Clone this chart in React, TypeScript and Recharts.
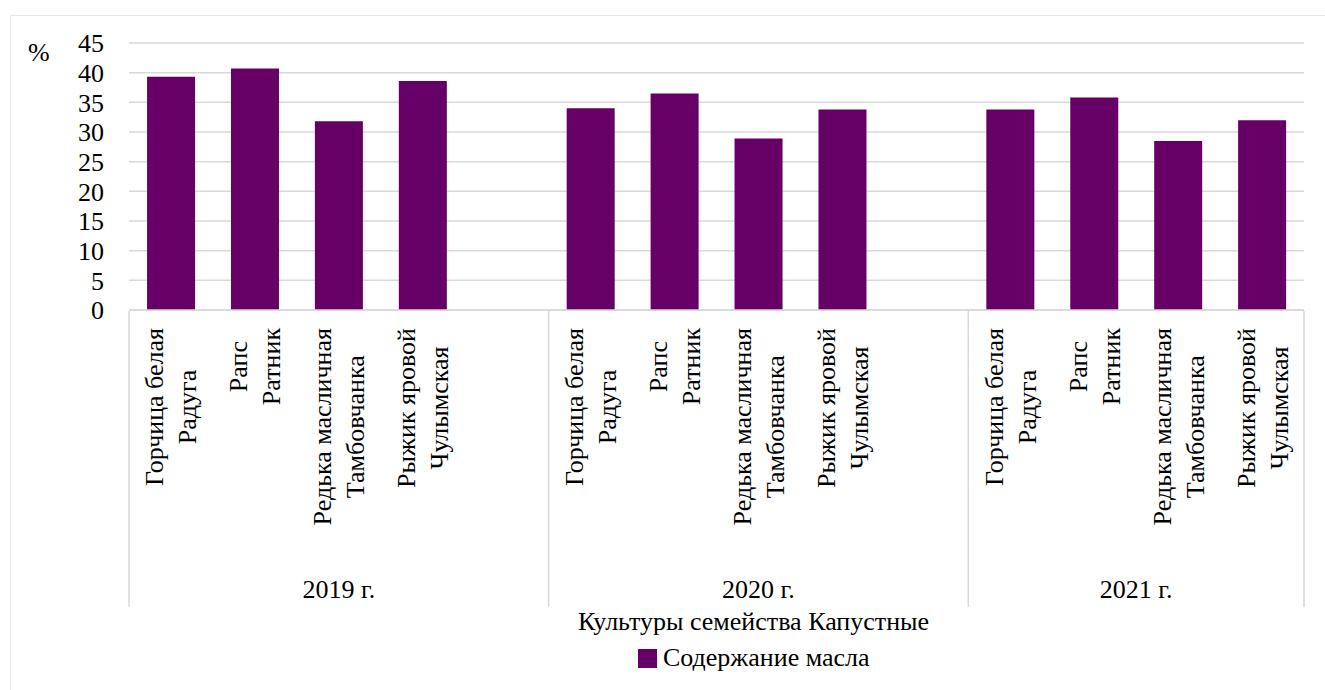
import React from 'react';
import { BarChart, Bar, XAxis, YAxis, CartesianGrid, Legend, Label } from 'recharts';

const years = ['2019 г.', '2020 г.', '2021 г.'];
const crops = [
  'Горчица белая\nРадуга',
  'Рапс\nРатник',
  'Редька масличная\nТамбовчанка',
  'Рыжик яровой\nЧулымская',
];
const oil2019 = [39.3, 40.7, 31.8, 38.6];
const oil2020 = [34.0, 36.5, 28.9, 33.8];
const oil2021 = [33.8, 35.8, 28.5, 32.0];
const yTicks = [0, 5, 10, 15, 20, 25, 30, 35, 40, 45];

const seriesName = 'Содержание масла';
const axisTitle = 'Культуры семейства Капустные';

const FONT = '"Liberation Serif", "Times New Roman", Times, "Noto Serif", "DejaVu Serif", Tinos, serif';
const FS = 26;
const BAR = '#660066';
const GRID = '#d9d9d9';

const W = 1325;
const H = 690;
const margin = { top: 43, right: 21, left: 69, bottom: 60 };
const Y_W = 60;
const X_H = 320;
const PLOT_W = W - margin.left - margin.right - Y_W;

type Row = { key: string; crop: string; year: string; groupStart: boolean; groupSize: number; last: boolean; oil?: number };

const yearValues = [oil2019, oil2020, oil2021];
const rows: Row[] = [];
years.forEach((year, yi) => {
  const size = yi < years.length - 1 ? crops.length + 1 : crops.length;
  crops.forEach((crop, ci) => {
    rows.push({ key: `${year}-${ci}`, crop, year, groupStart: ci === 0, groupSize: size, last: false, oil: yearValues[yi][ci] });
  });
  if (yi < years.length - 1) {
    rows.push({ key: `${year}-gap`, crop: '', year, groupStart: false, groupSize: size, last: false });
  }
});
rows[rows.length - 1].last = true;

const SLOT = PLOT_W / rows.length;

let ctx: CanvasRenderingContext2D | null = null;
const measure = (s: string) => {
  if (!ctx) {
    ctx = document.createElement('canvas').getContext('2d');
  }
  if (!ctx) return s.length * FS * 0.5;
  ctx.font = `${FS}px ${FONT}`;
  return ctx.measureText(s).width;
};

const CropTick = (props: any) => {
  const { x, y, payload } = props;
  const row = rows.find((r) => r.key === payload.value);
  if (!row) return null;
  const lines = row.crop ? row.crop.split('\n') : [];
  const longest = Math.max(0, ...lines.map(measure));
  const along = -(18 + longest / 2);
  const lh = 33;
  const first = -((lines.length - 1) * lh) / 2 + 9;
  const left = x - SLOT / 2;
  return (
    <g>
      {lines.length > 0 && (
        <g transform={`translate(${x},${y})`}>
          <text transform="rotate(-90)" textAnchor="middle" fontFamily={FONT} fontSize={FS} fill="#000">
            {lines.map((l, i) => (
              <tspan key={i} x={along} y={first + i * lh}>
                {l}
              </tspan>
            ))}
          </text>
        </g>
      )}
      {row.groupStart && (
        <>
          <line x1={left} x2={left} y1={y + 1} y2={y + 297} stroke={GRID} strokeWidth={1.5} />
          <text x={left + (row.groupSize * SLOT) / 2} y={y + 288} textAnchor="middle" fontFamily={FONT} fontSize={FS} fill="#000">
            {row.year}
          </text>
        </>
      )}
      {row.last && <line x1={x + SLOT / 2} x2={x + SLOT / 2} y1={y + 1} y2={y + 297} stroke={GRID} strokeWidth={1.5} />}
    </g>
  );
};

const LegendContent = () => (
  <div style={{ display: 'flex', alignItems: 'center', fontFamily: FONT, fontSize: FS, color: '#000', lineHeight: 1 }}>
    <span style={{ display: 'inline-block', width: 19, height: 19, background: BAR, marginRight: 6 }} />
    <span>{seriesName}</span>
  </div>
);

export default function App() {
  return (
    <div style={{ position: 'absolute', left: 0, top: 0, width: W, height: H, background: '#fff', fontFamily: FONT }}>
      <div
        style={{
          position: 'absolute',
          left: 10,
          top: 15,
          right: 0,
          bottom: 0,
          borderLeft: '1px solid #e6e6e6',
          borderTop: '1px solid #e6e6e6',
        }}
      />
      <div style={{ position: 'absolute', left: 28, top: 38, fontFamily: FONT, fontSize: FS, color: '#000' }}>%</div>
      <BarChart width={W} height={H} data={rows} margin={margin} barCategoryGap="21.5%">
        <CartesianGrid horizontal vertical={false} stroke={GRID} strokeWidth={1.5} />
        <XAxis
          dataKey="key"
          interval={0}
          height={X_H}
          tickLine={false}
          tickSize={0}
          tickMargin={0}
          axisLine={{ stroke: GRID, strokeWidth: 1.5 }}
          tick={<CropTick />}
        >
          <Label
            content={(p: any) => {
              const vb = p.viewBox;
              return (
                <text x={vb.x + vb.width / 2 + 37} y={630} textAnchor="middle" fontFamily={FONT} fontSize={FS} fill="#000">
                  {axisTitle}
                </text>
              );
            }}
          />
        </XAxis>
        <YAxis
          width={Y_W}
          domain={[0, 45]}
          ticks={yTicks}
          interval={0}
          axisLine={false}
          tickLine={false}
          tickSize={0}
          tickMargin={25}
          tick={{ fontFamily: FONT, fontSize: FS, fill: '#000' }}
        />
        <Legend
          layout="horizontal"
          verticalAlign="middle"
          align="center"
          wrapperStyle={{ top: 645, left: 638, width: 'auto' }}
          content={<LegendContent />}
        />
        <Bar dataKey="oil" name={seriesName} fill={BAR} isAnimationActive={false} />
      </BarChart>
    </div>
  );
}
